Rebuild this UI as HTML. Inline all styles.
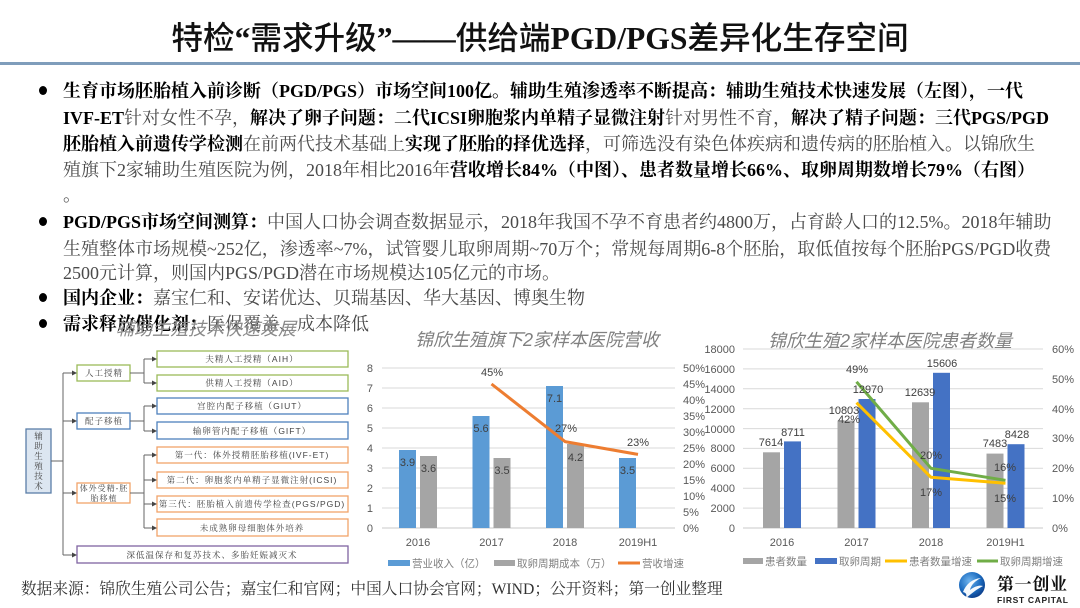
<!DOCTYPE html>
<html><head><meta charset="utf-8">
<style>
html,body{margin:0;padding:0;background:#fff;}
body{width:1080px;height:608px;position:relative;overflow:hidden;}
.title{position:absolute;left:0;top:19px;width:1080px;text-align:center;font-family:"Liberation Serif","Noto Sans CJK SC",sans-serif;font-size:31.6px;line-height:40px;color:#111;font-weight:500;white-space:nowrap;}
.title b{font-weight:bold;}
.hr{position:absolute;left:0;top:62px;width:1080px;height:3px;background:#7f9dbb;}
.ln{position:absolute;left:63px;height:20px;line-height:20px;font-size:18px;white-space:nowrap;color:#4a4a4a;font-family:"Liberation Serif","Noto Serif CJK SC",serif;}
.ln b{color:#000;font-weight:bold;}
.dot{position:absolute;left:39px;width:8px;height:9px;border-radius:50%;background:#000;}
.foot{position:absolute;left:21px;top:580px;height:20px;line-height:20px;font-size:15.7px;color:#333;white-space:nowrap;font-family:"Liberation Serif","Noto Serif CJK SC",serif;}
svg{position:absolute;left:0;top:0;}
</style></head><body>
<div class="title">特检<b>“</b>需求升级<b>”——</b>供给端<b>PGD/PGS</b>差异化生存空间</div>
<div class="hr"></div>

<div class="dot" style="top:86px"></div>
<div class="ln" style="top:81px"><b>生育市场胚胎植入前诊断（PGD/PGS）市场空间100亿。辅助生殖渗透率不断提高：辅助生殖技术快速发展（左图），一代</b></div>
<div class="ln" style="top:108px"><b>IVF-ET</b>针对女性不孕，<b>解决了卵子问题：二代ICSI卵胞浆内单精子显微注射</b>针对男性不育，<b>解决了精子问题：三代PGS/PGD</b></div>
<div class="ln" style="top:134px"><b>胚胎植入前遗传学检测</b>在前两代技术基础上<b>实现了胚胎的择优选择</b>，可筛选没有染色体疾病和遗传病的胚胎植入。以锦欣生</div>
<div class="ln" style="top:160px">殖旗下2家辅助生殖医院为例，2018年相比2016年<b>营收增长84%（中图）、患者数量增长66%、取卵周期数增长79%（右图）</b></div>
<div class="ln" style="top:185px">。</div>

<div class="dot" style="top:217px"></div>
<div class="ln" style="top:212px"><b>PGD/PGS市场空间测算：</b>中国人口协会调查数据显示，2018年我国不孕不育患者约4800万，占育龄人口的12.5%。2018年辅助</div>
<div class="ln" style="top:239px">生殖整体市场规模~252亿，渗透率~7%，试管婴儿取卵周期~70万个；常规每周期6-8个胚胎，取低值按每个胚胎PGS/PGD收费</div>
<div class="ln" style="top:263px">2500元计算，则国内PGS/PGD潜在市场规模达105亿元的市场。</div>
<div class="dot" style="top:293px"></div>
<div class="ln" style="top:288px"><b>国内企业：</b>嘉宝仁和、安诺优达、贝瑞基因、华大基因、博奥生物</div>
<div class="dot" style="top:319px"></div>
<div class="ln" style="top:314px"><b>需求释放催化剂：</b>医保覆盖、成本降低</div>

<div class="foot">数据来源：锦欣生殖公司公告；嘉宝仁和官网；中国人口协会官网；WIND；公开资料；第一创业整理</div>

<svg width="1080" height="608" viewBox="0 0 1080 608" xmlns="http://www.w3.org/2000/svg">
<defs>
<marker id="ar" markerWidth="5" markerHeight="5" refX="4" refY="2.5" orient="auto" markerUnits="userSpaceOnUse">
<path d="M0,0 L5,2.5 L0,5 z" fill="#444"/></marker>
<radialGradient id="gl" cx="0.4" cy="0.35" r="0.7">
<stop offset="0" stop-color="#6fb4ee"/><stop offset="0.6" stop-color="#1c6cc0"/><stop offset="1" stop-color="#0b3a86"/></radialGradient>
</defs>

<!-- chart titles -->
<g font-family="Liberation Sans,'Noto Sans CJK SC',sans-serif" font-style="italic" fill="#808080" font-size="18">
<text x="116" y="335" fill="#8a8a8a">辅助生殖技术快速发展</text>
<text x="415" y="346">锦欣生殖旗下2家样本医院营收</text>
<text x="768" y="347">锦欣生殖2家样本医院患者数量</text>
</g>

<!-- LEFT DIAGRAM -->
<g fill="none" stroke-width="1.3">
<rect x="26" y="429" width="25" height="64" fill="#dce6f1" stroke="#5a7ea8"/>
<rect x="77" y="365" width="53" height="16" fill="#fff" stroke="#9bbb59"/>
<rect x="77" y="413" width="53" height="16" fill="#fff" stroke="#4f81bd"/>
<rect x="77" y="483" width="53" height="20" fill="#fff" stroke="#f2a36a"/>
<rect x="77" y="546" width="271" height="17" fill="#fff" stroke="#8064a2"/>
<rect x="157" y="351" width="191" height="16" fill="#fff" stroke="#9bbb59"/>
<rect x="157" y="375" width="191" height="16" fill="#fff" stroke="#9bbb59"/>
<rect x="157" y="398" width="191" height="16" fill="#fff" stroke="#4f81bd"/>
<rect x="157" y="422" width="191" height="17" fill="#fff" stroke="#4f81bd"/>
<rect x="157" y="447" width="191" height="16" fill="#fff" stroke="#f2a36a"/>
<rect x="157" y="472" width="191" height="16" fill="#fff" stroke="#f2a36a"/>
<rect x="157" y="496" width="191" height="16" fill="#fff" stroke="#f2a36a"/>
<rect x="157" y="519" width="191" height="17" fill="#fff" stroke="#f2a36a"/>
</g>
<g stroke="#666" stroke-width="1" fill="none">
<path d="M51 461 H63 M63 373 V555"/>
<path d="M63 373 H76" marker-end="url(#ar)"/>
<path d="M63 421 H76" marker-end="url(#ar)"/>
<path d="M63 493 H76" marker-end="url(#ar)"/>
<path d="M63 555 H76" marker-end="url(#ar)"/>
<path d="M130 373 H144 M144 359 V383 M130 421 H144 M144 406 V431 M130 493 H144 M144 455 V528"/>
<path d="M144 359 H156" marker-end="url(#ar)"/>
<path d="M144 383 H156" marker-end="url(#ar)"/>
<path d="M144 406 H156" marker-end="url(#ar)"/>
<path d="M144 431 H156" marker-end="url(#ar)"/>
<path d="M144 455 H156" marker-end="url(#ar)"/>
<path d="M144 480 H156" marker-end="url(#ar)"/>
<path d="M144 504 H156" marker-end="url(#ar)"/>
<path d="M144 528 H156" marker-end="url(#ar)"/>
</g>
<g font-family="Liberation Sans,'Noto Serif CJK SC',serif" font-size="8.5" fill="#444" text-anchor="middle" letter-spacing="1">
<text x="39" y="439">辅</text><text x="39" y="449">助</text><text x="39" y="459">生</text><text x="39" y="469">殖</text><text x="39" y="479">技</text><text x="39" y="489">术</text>
<text x="104" y="376">人工授精</text>
<text x="104" y="424">配子移植</text>
<text x="104" y="491" font-size="8">体外受精-胚</text>
<text x="104" y="501" font-size="8">胎移植</text>
<text x="252" y="362">夫精人工授精（AIH）</text>
<text x="252" y="386">供精人工授精（AID）</text>
<text x="252" y="409">宫腔内配子移植（GIUT）</text>
<text x="252" y="434">输卵管内配子移植（GIFT）</text>
<text x="252" y="458">第一代：体外授精胚胎移植(IVF-ET)</text>
<text x="252" y="483">第二代：卵胞浆内单精子显微注射(ICSI)</text>
<text x="252" y="507">第三代：胚胎植入前遗传学检查(PGS/PGD)</text>
<text x="252" y="531">未成熟卵母细胞体外培养</text>
<text x="212" y="558">深低温保存和复苏技术、多胎妊娠减灭术</text>
</g>

<!-- MIDDLE CHART -->
<g stroke="#d9d9d9" stroke-width="1">
<line x1="382" x2="675" y1="368" y2="368"/><line x1="382" x2="675" y1="388" y2="388"/>
<line x1="382" x2="675" y1="408" y2="408"/><line x1="382" x2="675" y1="428" y2="428"/>
<line x1="382" x2="675" y1="448" y2="448"/><line x1="382" x2="675" y1="468" y2="468"/>
<line x1="382" x2="675" y1="488" y2="488"/><line x1="382" x2="675" y1="508" y2="508"/>
<line x1="382" x2="675" y1="528" y2="528" stroke="#c8c8c8"/>
</g>
<g font-family="Liberation Sans,sans-serif" font-size="11" fill="#595959">
<g text-anchor="end">
<text x="373" y="372">8</text><text x="373" y="392">7</text><text x="373" y="412">6</text><text x="373" y="432">5</text><text x="373" y="452">4</text><text x="373" y="472">3</text><text x="373" y="492">2</text><text x="373" y="512">1</text><text x="373" y="532">0</text>
</g>
<text x="683" y="372">50%</text><text x="683" y="388">45%</text><text x="683" y="404">40%</text><text x="683" y="420">35%</text><text x="683" y="436">30%</text><text x="683" y="452">25%</text><text x="683" y="468">20%</text><text x="683" y="484">15%</text><text x="683" y="500">10%</text><text x="683" y="516">5%</text><text x="683" y="532">0%</text>
<g text-anchor="middle">
<text x="418" y="546">2016</text><text x="491.5" y="546">2017</text><text x="565" y="546">2018</text><text x="638" y="546">2019H1</text>
</g>
</g>
<g fill="#5b9bd5">
<rect x="399" y="450" width="17" height="78"/><rect x="472.5" y="416" width="17" height="112"/>
<rect x="546" y="386" width="17" height="142"/><rect x="619" y="458" width="17" height="70"/>
</g>
<g fill="#a5a5a5">
<rect x="420" y="456" width="17" height="72"/><rect x="493.5" y="458" width="17" height="70"/>
<rect x="567" y="444" width="17" height="84"/>
</g>
<polyline points="491.5,384 565,441.6 638,454.4" fill="none" stroke="#ed7d31" stroke-width="3" stroke-linejoin="round"/>
<g font-family="Liberation Sans,sans-serif" font-size="11" fill="#404040" text-anchor="middle">
<text x="407.5" y="466">3.9</text><text x="428.5" y="472">3.6</text>
<text x="481" y="432">5.6</text><text x="502" y="474">3.5</text>
<text x="554.5" y="402">7.1</text><text x="575.5" y="461">4.2</text>
<text x="627.5" y="474">3.5</text>
<text x="492" y="376">45%</text><text x="566" y="432">27%</text><text x="638" y="446">23%</text>
</g>
<g font-family="Liberation Sans,'Noto Sans CJK SC',sans-serif" font-size="10.5" fill="#7f7f7f">
<rect x="388" y="560" width="22" height="6" fill="#5b9bd5"/>
<text x="412" y="567">营业收入（亿）</text>
<rect x="494" y="560" width="21" height="6" fill="#a5a5a5"/>
<text x="517" y="567">取卵周期成本（万）</text>
<line x1="618" x2="640" y1="563" y2="563" stroke="#ed7d31" stroke-width="3"/>
<text x="642" y="567">营收增速</text>
</g>

<!-- RIGHT CHART -->
<g stroke="#d9d9d9" stroke-width="1">
<line x1="743" x2="1043" y1="349" y2="349"/><line x1="743" x2="1043" y1="368.9" y2="368.9"/>
<line x1="743" x2="1043" y1="388.8" y2="388.8"/><line x1="743" x2="1043" y1="408.7" y2="408.7"/>
<line x1="743" x2="1043" y1="428.6" y2="428.6"/><line x1="743" x2="1043" y1="448.4" y2="448.4"/>
<line x1="743" x2="1043" y1="468.3" y2="468.3"/><line x1="743" x2="1043" y1="488.2" y2="488.2"/>
<line x1="743" x2="1043" y1="508.1" y2="508.1"/>
<line x1="743" x2="1043" y1="528" y2="528" stroke="#c8c8c8"/>
</g>
<g font-family="Liberation Sans,sans-serif" font-size="11" fill="#595959">
<g text-anchor="end">
<text x="735" y="353">18000</text><text x="735" y="373">16000</text><text x="735" y="393">14000</text><text x="735" y="413">12000</text><text x="735" y="433">10000</text><text x="735" y="452">8000</text><text x="735" y="472">6000</text><text x="735" y="492">4000</text><text x="735" y="512">2000</text><text x="735" y="532">0</text>
</g>
<text x="1052" y="353">60%</text><text x="1052" y="383">50%</text><text x="1052" y="413">40%</text><text x="1052" y="442">30%</text><text x="1052" y="472">20%</text><text x="1052" y="502">10%</text><text x="1052" y="532">0%</text>
<g text-anchor="middle">
<text x="782" y="546">2016</text><text x="856.5" y="546">2017</text><text x="931" y="546">2018</text><text x="1005.5" y="546">2019H1</text>
</g>
</g>
<g fill="#a5a5a5">
<rect x="763" y="452.3" width="17" height="75.7"/><rect x="837.5" y="420.6" width="17" height="107.4"/>
<rect x="912" y="402.3" width="17" height="125.7"/><rect x="986.5" y="453.6" width="17" height="74.4"/>
</g>
<g fill="#4472c4">
<rect x="784" y="441.4" width="17" height="86.6"/><rect x="858.5" y="399" width="17" height="129"/>
<rect x="933" y="372.8" width="17" height="155.2"/><rect x="1007.5" y="444.2" width="17" height="83.8"/>
</g>
<polyline points="856.5,402.7 931,477.3 1005.5,483.3" fill="none" stroke="#ffc000" stroke-width="3" stroke-linejoin="round"/>
<polyline points="856.5,381.8 931,468.3 1005.5,480.3" fill="none" stroke="#70ad47" stroke-width="3" stroke-linejoin="round"/>
<g font-family="Liberation Sans,sans-serif" font-size="11" fill="#404040" text-anchor="middle">
<text x="771" y="446">7614</text><text x="793" y="436">8711</text>
<text x="844" y="414">10803</text><text x="849" y="423">42%</text>
<text x="868" y="393">12970</text><text x="857" y="373">49%</text>
<text x="920" y="396">12639</text><text x="942" y="367">15606</text>
<text x="931" y="459">20%</text><text x="931" y="496">17%</text>
<text x="995" y="447">7483</text><text x="1017" y="438">8428</text>
<text x="1005" y="471">16%</text><text x="1005" y="502">15%</text>
</g>
<g font-family="Liberation Sans,'Noto Sans CJK SC',sans-serif" font-size="10.5" fill="#7f7f7f">
<rect x="743" y="558" width="20" height="6" fill="#a5a5a5"/>
<text x="765" y="565">患者数量</text>
<rect x="815" y="558" width="22" height="6" fill="#4472c4"/>
<text x="839" y="565">取卵周期</text>
<line x1="885" x2="907" y1="561" y2="561" stroke="#ffc000" stroke-width="3"/>
<text x="909" y="565">患者数量增速</text>
<line x1="977" x2="998" y1="561" y2="561" stroke="#70ad47" stroke-width="3"/>
<text x="1000" y="565">取卵周期增速</text>
</g>

<!-- LOGO -->
<circle cx="972" cy="585" r="13" fill="url(#gl)"/>
<path d="M963 592 C966 584,972 579,981 578 C975 581,971 585,970 590 C975 586,980 585,983 586 C977 589,971 594,966 598 C967 594,966 593,963 592 z" fill="#fff" opacity="0.95"/>
<text x="997" y="590" font-family="'Noto Serif CJK SC',serif" font-weight="bold" font-size="17" fill="#111" textLength="70">第一创业</text>
<text x="997" y="603" font-family="Liberation Sans,sans-serif" font-weight="bold" font-size="8.5" fill="#222" textLength="71">FIRST CAPITAL</text>
</svg>
</body></html>
